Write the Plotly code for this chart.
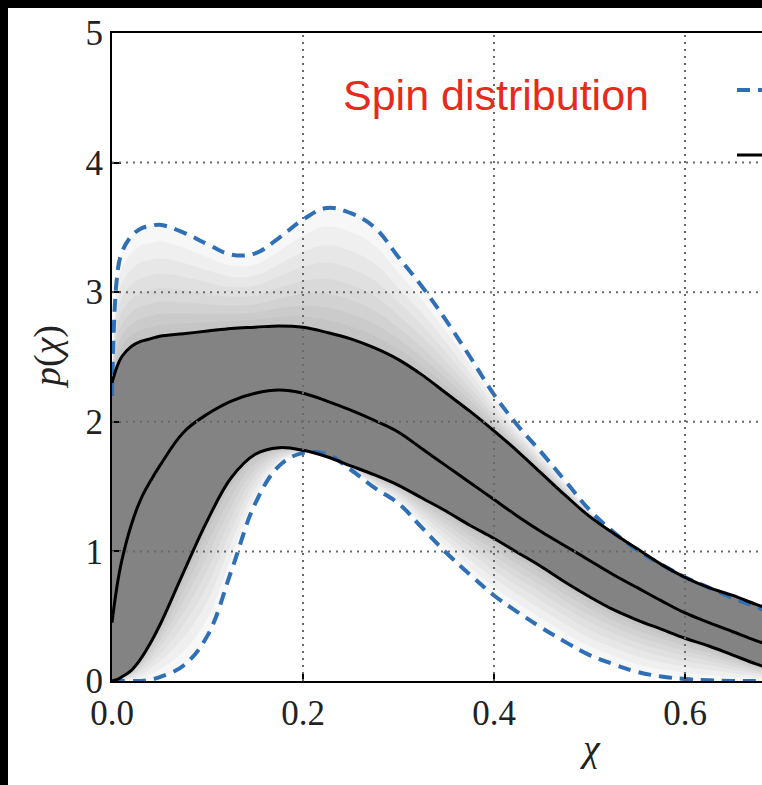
import numpy as np
import plotly.graph_objects as go

# Spin magnitude grid and posterior summaries of p(chi)
chi = [0, 0.005, 0.01, 0.02, 0.03, 0.04, 0.05, 0.075, 0.1, 0.125, 0.15, 0.175, 0.2,
       0.225, 0.25, 0.275, 0.3, 0.325, 0.35, 0.375, 0.4, 0.425, 0.45, 0.475, 0.5,
       0.525, 0.55, 0.575, 0.6, 0.625, 0.65, 0.675, 0.7]
median = [0.45, 0.72, 0.92, 1.20, 1.40, 1.54, 1.66, 1.92, 2.06, 2.16, 2.22, 2.245, 2.22,
          2.16, 2.09, 2.01, 1.92, 1.79, 1.66, 1.53, 1.40, 1.27, 1.15, 1.04, 0.93,
          0.82, 0.72, 0.62, 0.525, 0.45, 0.38, 0.31, 0.25]
upper90 = [2.30, 2.42, 2.50, 2.58, 2.62, 2.64, 2.66, 2.68, 2.70, 2.72, 2.73, 2.74, 2.73,
           2.69, 2.64, 2.57, 2.48, 2.36, 2.22, 2.08, 1.93, 1.77, 1.60, 1.43, 1.27,
           1.14, 1.02, 0.90, 0.80, 0.72, 0.66, 0.59, 0.53]
lower90 = [0.0, 0.01, 0.03, 0.08, 0.17, 0.29, 0.43, 0.84, 1.24, 1.57, 1.75, 1.80, 1.78,
           1.73, 1.66, 1.59, 1.51, 1.41, 1.31, 1.20, 1.10, 0.99, 0.88, 0.76, 0.65,
           0.55, 0.47, 0.40, 0.33, 0.27, 0.20, 0.13, 0.07]
upper_dash = [2.2, 3.1, 3.3, 3.43, 3.49, 3.51, 3.52, 3.46, 3.37, 3.29, 3.30, 3.42, 3.56,
              3.65, 3.61, 3.50, 3.27, 3.04, 2.78, 2.50, 2.21, 1.97, 1.76, 1.54, 1.32,
              1.15, 1.01, 0.90, 0.80, 0.72, 0.64, 0.57, 0.50]
lower_dash = [0, 0, 0, 0, 0, 0.01, 0.03, 0.12, 0.35, 0.85, 1.37, 1.66, 1.76,
              1.75, 1.63, 1.49, 1.37, 1.18, 0.99, 0.82, 0.66, 0.53, 0.41, 0.30, 0.20,
              0.13, 0.07, 0.035, 0.015, 0.005, 0.0, 0.0, 0.0]

x_ticks = [0.0, 0.2, 0.4, 0.6]
x_ticklabels = ["0.0", "0.2", "0.4", "0.6"]
y_ticks = [0, 1, 2, 3, 4, 5]
y_ticklabels = ["0", "1", "2", "3", "4", "5"]

X_MAX = 0.6806
SMOOTH = 1.1
BLUE = "#2f6fb6"
SERIF = "Liberation Serif"

fig = go.Figure()

up = np.array(upper90)
lo = np.array(lower90)
ud = np.maximum(np.array(upper_dash), up)
ld = np.minimum(np.array(lower_dash), lo)

# soft haze of the individual draws outside the central band
for frac in [1.0, 0.85, 0.7, 0.56, 0.43, 0.31, 0.2, 0.1]:
    for base, edge in [(up, up + frac * (ud - up)), (lo, lo - frac * (lo - ld))]:
        fig.add_trace(go.Scatter(x=chi, y=base, mode="lines",
                                 line=dict(width=0, shape="spline", smoothing=SMOOTH),
                                 showlegend=False, hoverinfo="skip"))
        fig.add_trace(go.Scatter(x=chi, y=edge, mode="lines", fill="tonexty",
                                 fillcolor="rgba(80,80,80,0.042)",
                                 line=dict(width=0, shape="spline", smoothing=SMOOTH),
                                 showlegend=False, hoverinfo="skip"))

# central 90% band
fig.add_trace(go.Scatter(x=chi, y=lower90, mode="lines",
                         line=dict(width=0, shape="spline", smoothing=SMOOTH),
                         showlegend=False, hoverinfo="skip"))
fig.add_trace(go.Scatter(x=chi, y=upper90, mode="lines", fill="tonexty",
                         fillcolor="#838383",
                         line=dict(width=0, shape="spline", smoothing=SMOOTH),
                         showlegend=False, hoverinfo="skip"))

for ys in (upper_dash, lower_dash):
    fig.add_trace(go.Scatter(x=chi, y=ys, mode="lines",
                             line=dict(color=BLUE, width=4, dash="13px,8px",
                                       shape="spline", smoothing=SMOOTH),
                             showlegend=False))
for ys in (upper90, median, lower90):
    fig.add_trace(go.Scatter(x=chi, y=ys, mode="lines",
                             line=dict(color="black", width=3,
                                       shape="spline", smoothing=SMOOTH),
                             showlegend=False))

shapes = []
grid = dict(color="#6a6a6a", width=2, dash="2px,5px")
for xv in x_ticks[1:]:
    shapes.append(dict(type="line", xref="x", yref="y", x0=xv, x1=xv, y0=0, y1=5,
                       line=grid, layer="above"))
for yv in y_ticks[1:-1]:
    shapes.append(dict(type="line", xref="paper", yref="y", x0=0, x1=1, y0=yv, y1=yv,
                       line=grid, layer="above"))

# legend samples at the right edge
shapes.append(dict(type="line", xref="paper", yref="paper", x0=0.9615, x1=1.05,
                   y0=0.912, y1=0.912, line=dict(color=BLUE, width=4, dash="13px,8px"),
                   layer="above"))
shapes.append(dict(type="line", xref="paper", yref="paper", x0=0.9615, x1=1.05,
                   y0=0.8117, y1=0.8117, line=dict(color="black", width=3),
                   layer="above"))

# dark frame around the page
shapes.append(dict(type="rect", xref="paper", yref="paper", x0=-0.3, x1=-0.16,
                   y0=-0.3, y1=1.2, fillcolor="black", line=dict(width=0), layer="above"))
shapes.append(dict(type="rect", xref="paper", yref="paper", x0=-0.3, x1=1.2,
                   y0=1.0386, y1=1.2, fillcolor="black", line=dict(width=0), layer="above"))

annotations = [
    dict(text="Spin distribution", xref="paper", yref="paper", x=0.591, y=0.905,
         xanchor="center", yanchor="middle", showarrow=False,
         font=dict(family="Liberation Sans", size=43, color="#e8291c")),
    dict(text="<i>χ</i>", xref="x", yref="paper", x=0.5, y=-0.103,
         xanchor="center", yanchor="middle", showarrow=False,
         font=dict(family=SERIF, size=38, color="#222")),
    dict(text="<i>p</i>(<i>χ</i>)", xref="paper", yref="paper", x=-0.1, y=0.5,
         xanchor="center", yanchor="middle", textangle=-90, showarrow=False,
         font=dict(family=SERIF, size=38, color="#222")),
]

axis_common = dict(showline=True, linecolor="black", linewidth=2, ticks="inside",
                   ticklen=9, tickwidth=1.5, tickcolor="black", showgrid=False,
                   zeroline=False, tickfont=dict(family=SERIF, size=35, color="#222"))

fig.update_layout(
    width=762, height=785,
    margin=dict(l=112, r=0, t=33, b=104),
    paper_bgcolor="white", plot_bgcolor="white",
    xaxis=dict(range=[0, X_MAX], tickvals=x_ticks, ticktext=x_ticklabels,
               mirror=True, **axis_common),
    yaxis=dict(range=[0, 5], tickvals=y_ticks, ticktext=y_ticklabels,
               mirror=False, **axis_common),
    shapes=shapes, annotations=annotations, showlegend=False,
)

fig.write_html("out.html")
